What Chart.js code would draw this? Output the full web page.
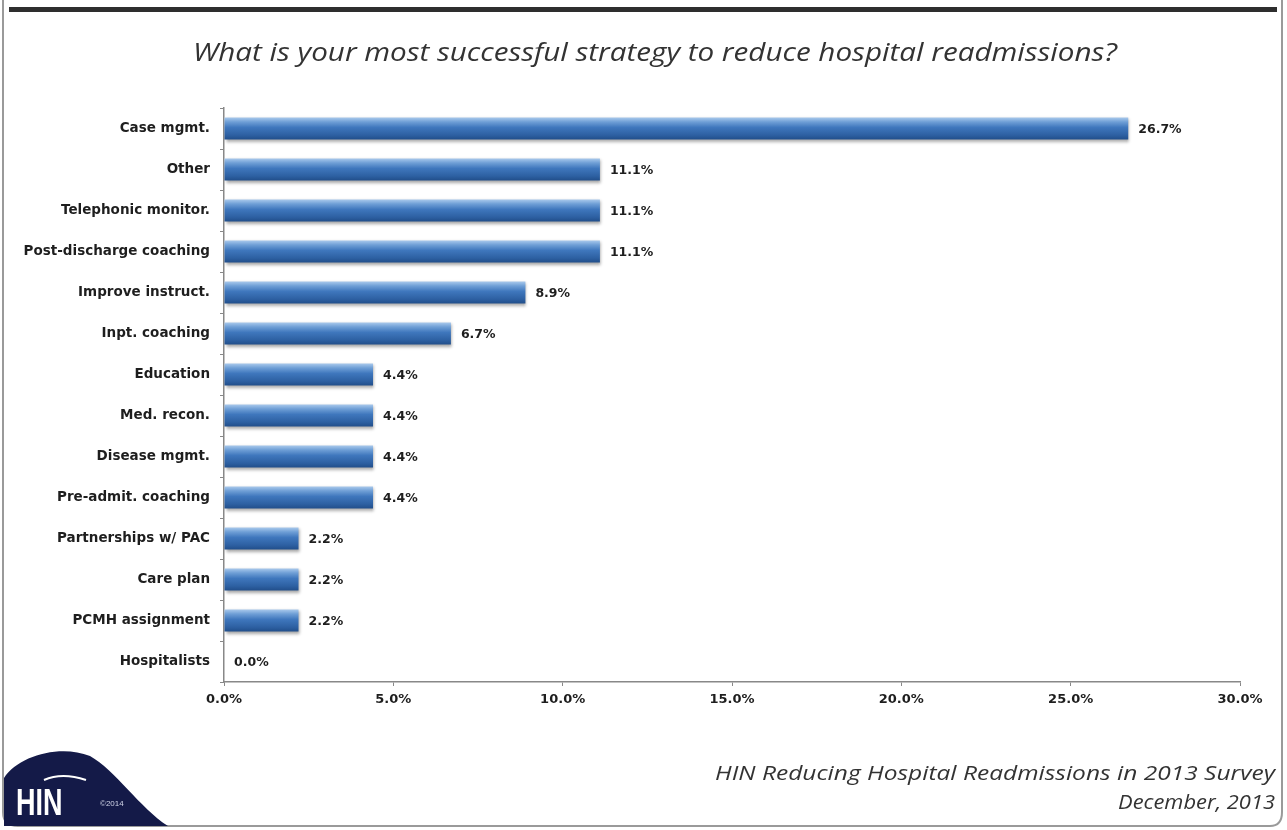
<!DOCTYPE html>
<html>
<head>
<meta charset="utf-8">
<script src="https://cdn.jsdelivr.net/npm/chart.js@4.4.1/dist/chart.umd.min.js"></script>
<style>
html,body{margin:0;padding:0;background:#fff;}
#wrap{position:relative;width:1287px;height:830px;}
canvas{display:block;}
</style>
</head>
<body>
<div id="wrap"><canvas id="c" width="1287" height="830"></canvas></div>
<script>
const categories = ['Case mgmt.','Other','Telephonic monitor.','Post-discharge coaching','Improve instruct.','Inpt. coaching','Education','Med. recon.','Disease mgmt.','Pre-admit. coaching','Partnerships w/ PAC','Care plan','PCMH assignment','Hospitalists'];
const values = [26.7,11.1,11.1,11.1,8.9,6.7,4.4,4.4,4.4,4.4,2.2,2.2,2.2,0.0];
const xTicks = [0,5,10,15,20,25,30];
const titleText = 'What is your most successful strategy to reduce hospital readmissions?';
const footer1 = 'HIN Reducing Hospital Readmissions in 2013 Survey';
const footer2 = 'December, 2013';

const LABEL_FONT = {family:'"DejaVu Sans", sans-serif', size:13.5, weight:'bold'};
const TICK_FONT = {family:'"DejaVu Sans", sans-serif', size:13, weight:'bold'};

function barGradient(ctx){
  const chart = ctx.chart;
  if(!chart.chartArea || !chart.scales.y) return '#3b72b5';
  const yScale = chart.scales.y;
  const yc = yScale.getPixelForValue(ctx.dataIndex);
  const half = 11;
  const g = chart.ctx.createLinearGradient(0, yc-half, 0, yc+half);
  g.addColorStop(0, '#a9c9ec');
  g.addColorStop(0.2, '#6f9fd6');
  g.addColorStop(0.45, '#3f77bd');
  g.addColorStop(0.8, '#2d60a2');
  g.addColorStop(1, '#214e8a');
  return g;
}

const decor = {
  id:'decor',
  beforeDraw(chart){
    const c = chart.ctx;
    c.save();
    c.fillStyle='#fff';
    c.fillRect(0,0,chart.width,chart.height);
    c.strokeStyle='#9a9a9a';
    c.lineWidth=2;
    c.beginPath();
    c.moveTo(3,0); c.lineTo(3,812); c.quadraticCurveTo(3,826,18,826); c.lineTo(1270,826);
    c.quadraticCurveTo(1282,826,1282,812); c.lineTo(1282,0);
    c.stroke();
    c.fillStyle='#2e2e2e';
    c.fillRect(9,7,1268,5);
    c.restore();
  },
  beforeDatasetsDraw(chart){
    const c = chart.ctx;
    c.save();
    c.shadowColor='rgba(0,0,0,0.35)';
    c.shadowBlur=3;
    c.shadowOffsetX=1;
    c.shadowOffsetY=2;
  },
  afterDatasetsDraw(chart){
    const c = chart.ctx;
    c.restore();
    const meta = chart.getDatasetMeta(0);
    c.save();
    c.font = 'bold 12.5px "DejaVu Sans", sans-serif';
    c.fillStyle='#1e1e1e';
    c.textBaseline='middle';
    c.textAlign='left';
    meta.data.forEach((bar,i)=>{
      c.fillText(values[i].toFixed(1)+'%', bar.x+10, bar.y+1);
    });
    c.restore();
  },
  afterDraw(chart){
    const c = chart.ctx;
    c.save();
    c.fillStyle='#333';
    c.font='italic 26px "Open Sans", sans-serif';
    c.textBaseline='middle';
    let w = c.measureText(titleText).width;
    c.translate(655,54);
    c.scale(924/w,1);
    c.textAlign='center';
    c.fillText(titleText,0,0);
    c.restore();
    c.save();
    c.fillStyle='#333';
    c.font='italic 20px "Open Sans", sans-serif';
    c.textBaseline='middle';
    c.textAlign='right';
    w = c.measureText(footer1).width;
    c.save(); c.translate(1275,774); c.scale(560/w,1); c.fillText(footer1,0,0); c.restore();
    w = c.measureText(footer2).width;
    c.save(); c.translate(1275,803); c.scale(157/w,1); c.fillText(footer2,0,0); c.restore();
    c.restore();
    // logo
    c.save();
    c.fillStyle='#141a48';
    c.beginPath();
    c.moveTo(4,826);
    c.lineTo(4,778);
    c.bezierCurveTo(18,756,60,744,90,756);
    c.bezierCurveTo(115,770,140,808,168,826);
    c.closePath();
    c.fill();
    c.fillStyle='#fff';
    c.font='bold 30px "Liberation Sans", sans-serif';
    c.textBaseline='alphabetic';
    c.textAlign='left';
    c.save(); c.translate(16,815); c.scale(0.9,1.25); c.fillText('HIN',0,0); c.restore();
    c.font='8px "Liberation Sans", sans-serif';
    c.fillStyle='#cfd3e6';
    c.fillText('©2014',100,806);
    c.strokeStyle='#fff'; c.lineWidth=2;
    c.beginPath(); c.moveTo(44,780); c.quadraticCurveTo(62,772,86,780); c.stroke();
    c.restore();
  }
};

new Chart(document.getElementById('c'), {
  type:'bar',
  data:{
    labels:categories,
    datasets:[{
      data:values,
      backgroundColor:barGradient,
      borderWidth:0,
      categoryPercentage:1,
      barPercentage:0.54
    }]
  },
  options:{
    indexAxis:'y',
    responsive:false,
    animation:false,
    devicePixelRatio:1,
    layout:{padding:{top:108,right:47,bottom:0,left:0}},
    plugins:{legend:{display:false},tooltip:{enabled:false}},
    scales:{
      x:{
        min:0,max:30,
        afterBuildTicks(scale){ scale.ticks = xTicks.map(v=>({value:v})); },
        afterFit(scale){ scale.height = 830-682; },
        ticks:{
          callback:(v)=>Number(v).toFixed(1)+'%',
          font:TICK_FONT, color:'#1e1e1e', padding:6, maxRotation:0, autoSkip:false
        },
        grid:{drawOnChartArea:false, tickLength:4, color:'#888'},
        border:{color:'#888', width:1.5}
      },
      y:{
        afterFit(scale){ scale.width = 224; },
        ticks:{font:LABEL_FONT, color:'#1e1e1e', padding:10, autoSkip:false},
        grid:{drawOnChartArea:false, tickLength:4, color:'#888', offset:true},
        border:{color:'#888', width:1.5}
      }
    }
  },
  plugins:[decor]
});
</script>
</body>
</html>
